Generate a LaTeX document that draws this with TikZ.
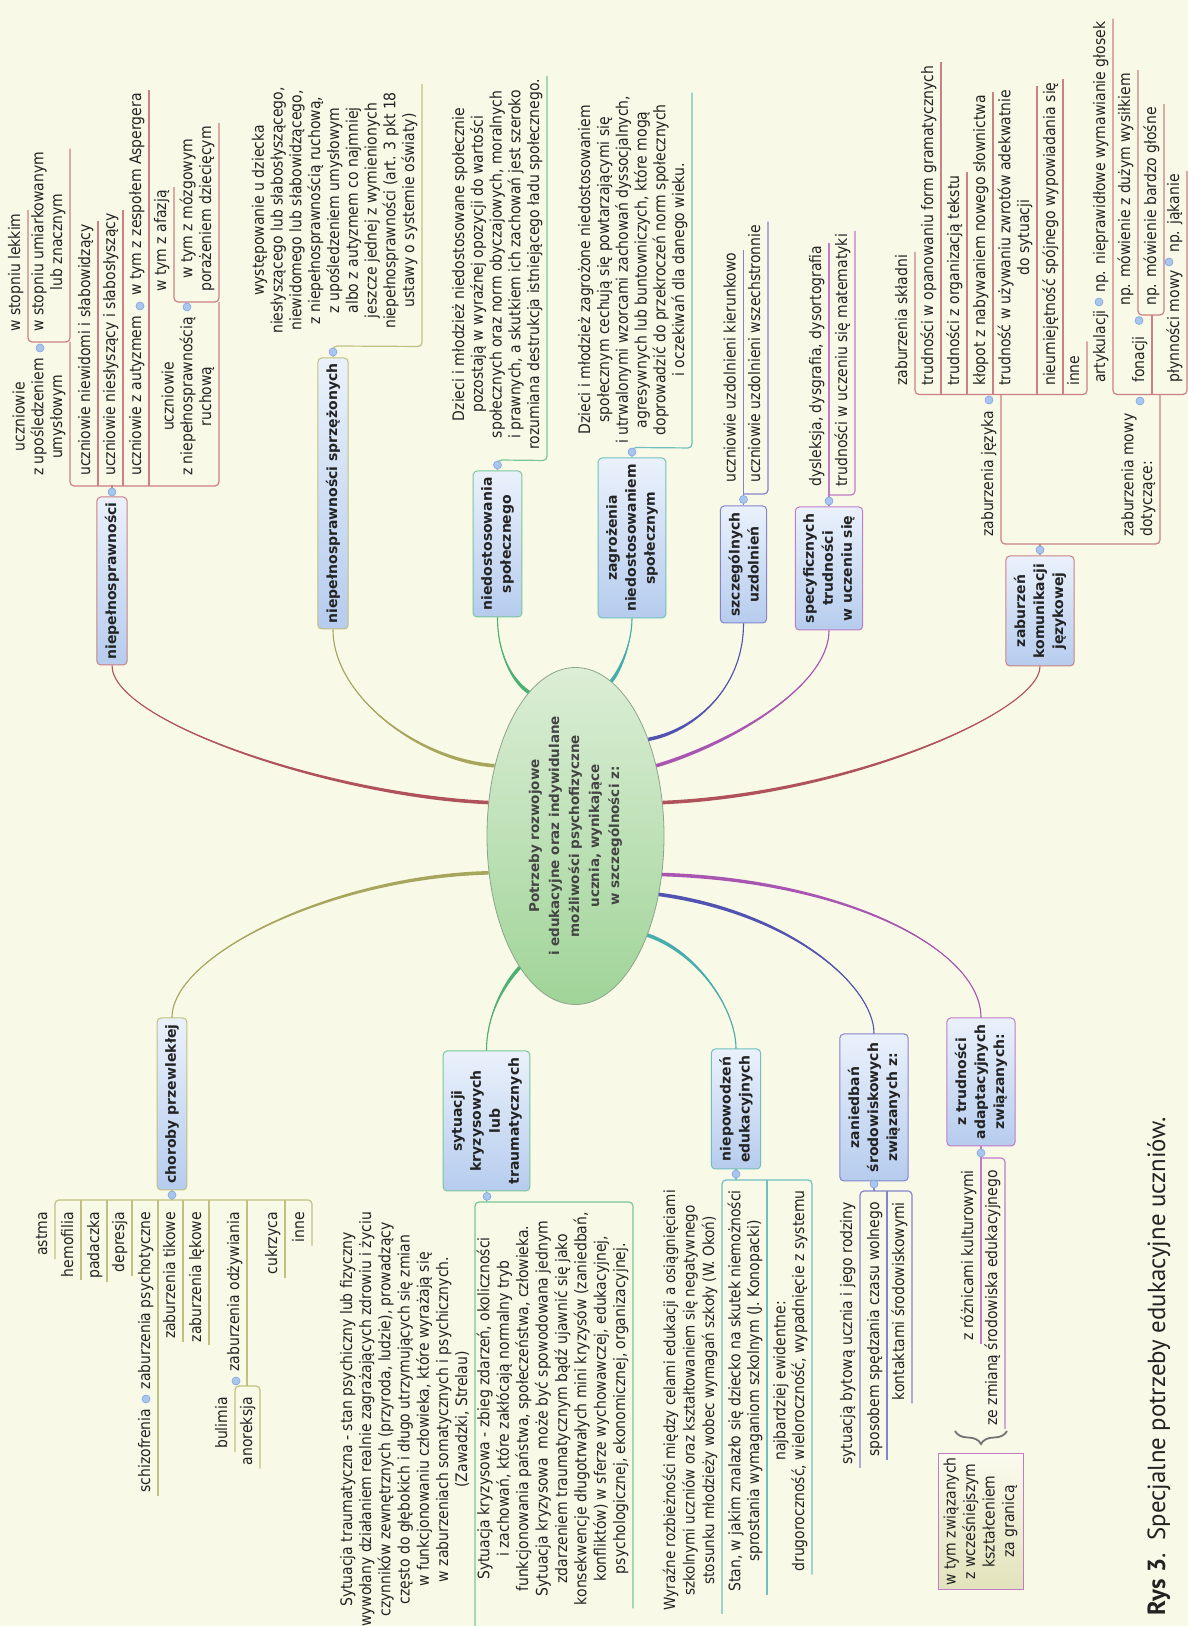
\documentclass[tikz,border=0pt]{standalone}
\usepackage{fontspec}
\setmainfont{DejaVu Sans}[FakeStretch=0.88]
\newfontfamily\boxfnt{DejaVu Sans}
\newfontfamily\capfnt{PT Sans}
\usetikzlibrary{calc,shapes.geometric,decorations.pathreplacing}

\definecolor{bgc}{RGB}{249,249,231}
\definecolor{txtc}{RGB}{35,35,35}
\definecolor{boxtop}{RGB}{234,241,251}
\definecolor{boxbot}{RGB}{182,204,238}
\definecolor{rootA}{RGB}{220,238,214}
\definecolor{rootB}{RGB}{160,212,152}
\definecolor{rootd}{RGB}{140,165,140}
\definecolor{dotc}{RGB}{168,198,240}
\definecolor{dotd}{RGB}{130,165,220}
\definecolor{notetop}{RGB}{251,251,238}
\definecolor{notebot}{RGB}{226,226,188}
\definecolor{brc}{RGB}{115,115,115}
% branch colours: c = curve, l = frame
\definecolor{redc}{RGB}{176,82,92}   \definecolor{redl}{RGB}{204,128,134}
\definecolor{olvc}{RGB}{166,166,92}  \definecolor{olvl}{RGB}{192,192,128}
\definecolor{grnc}{RGB}{76,176,112}  \definecolor{grnl}{RGB}{120,198,152}
\definecolor{tealc}{RGB}{70,172,172} \definecolor{teall}{RGB}{112,192,192}
\definecolor{indc}{RGB}{82,82,178}   \definecolor{indl}{RGB}{132,132,204}
\definecolor{magc}{RGB}{168,86,178}  \definecolor{magl}{RGB}{192,124,198}

\tikzset{
  topic/.style={rectangle, rounded corners=4pt, line width=1pt, top color=boxtop, bottom color=boxbot,
    font=\boxfnt\bfseries\fontsize{14}{19}\selectfont, text=txtc, align=center, inner xsep=5pt, inner ysep=8pt},
  sub/.style={font=\fontsize{15.9}{18.8}\selectfont, text=txtc, align=center, inner xsep=0pt, inner ysep=4pt, text depth=3.6pt},
  subR/.style={sub, anchor=south west},
  subL/.style={sub, anchor=south east},
  fr/.style={line width=1.2pt, rounded corners=4pt},
  dot/.style={circle, fill=dotc, draw=dotd, line width=0.6pt, minimum size=8pt, inner sep=0pt},
  note/.style={rectangle, draw=magl, line width=1pt, top color=notetop, bottom color=notebot,
    font=\fontsize{15.9}{19.5}\selectfont, text=txtc, align=center, minimum width=135pt, minimum height=85pt}
}

% tapered branch: colour, start, control at start, control at end, end, half width
\newcommand\branch[6]{%
  \fill[#1] ($(#2)+(#6)$) .. controls +#3 and +#4 .. (#5) .. controls +#4 and +#3 .. ($(#2)-(#6)$) -- cycle;
  \draw[#1, line width=1.1pt] (#2) .. controls +#3 and +#4 .. (#5);}

\begin{document}
\begin{tikzpicture}[x=1pt, y=1pt, rotate=90, transform shape]
\useasboundingbox (0,0) rectangle (1626,-1188);
\fill[bgc] (0,0) rectangle (1626,-1188);

% centre
\node (root) at (790,-575.5) [ellipse, draw=rootd, line width=0.8pt, top color=rootA, bottom color=rootB, minimum width=337pt, minimum height=177pt, inner sep=0pt] {};

% main topics
\node (nsp) at (1045,-112) [topic, draw=redl, minimum width=168pt] {niepełnosprawności};
\node (nsps) at (1132.5,-333) [topic, draw=olvl, minimum width=271pt] {niepełnosprawności sprzężonych};
\node (nds) at (1082,-497.5) [topic, draw=grnl, minimum width=146pt] {niedostosowania\\społecznego};
\node (zag) at (1088,-632) [topic, draw=teall, minimum width=160pt] {zagrożenia\\niedostosowaniem\\społecznym};
\node (szu) at (1061.5,-743.5) [topic, draw=indl, minimum width=117pt] {szczególnych\\uzdolnień};
\node (spt) at (1057.5,-829) [topic, draw=magl, minimum width=123pt] {specyficznych\\trudności\\w uczeniu się};
\node (zkj) at (1015,-1040) [topic, draw=redl, minimum width=110pt] {zaburzeń\\komunikacji\\językowej};
\node (chp) at (522,-172) [topic, draw=olvl, minimum width=172pt] {choroby przewlekłej};
\node (skt) at (505,-486.5) [topic, draw=grnl, minimum width=140pt] {sytuacji\\kryzysowych\\lub\\traumatycznych};
\node (npe) at (517,-736) [topic, draw=teall, minimum width=120pt] {niepowodzeń\\edukacyjnych};
\node (zsr) at (518.5,-874) [topic, draw=indl, minimum width=147pt] {zaniedbań\\środowiskowych\\związanych z:};
\node (ztr) at (544,-981) [topic, draw=magl, minimum width=128pt] {z trudności\\adaptacyjnych\\związanych:};

% niepelnosprawnosci
\node (a1) at (1150,-70) [subR] {uczniowie\\z upośledzeniem\\umysłowym};
\node (a2) at (1150,-98) [subR] {uczniowie niewidomi i słabowidzący};
\node (a3) at (1150,-123) [subR] {uczniowie niesłyszący i słabosłyszący};
\node (a4) at (1150,-149) [subR] {uczniowie z autyzmem};
\node (a5) at (1150,-219) [subR] {uczniowie\\z niepełnosprawnością\\ruchową};
\node (a11) at (1294,-28) [subR] {w stopniu lekkim};
\node (a12) at (1294,-70) [subR] {w stopniu umiarkowanym\\lub znacznym};
\node (a41) at (1330,-149) [subR] {w tym z zespołem Aspergera};
\node (a51) at (1334,-174) [subR] {w tym z afazją};
\node (a52) at (1334,-219) [subR] {w tym z mózgowym\\porażeniem dziecięcym};
\draw[fr, redl] (nsp.east) -- ($(nsp.east)+(11,0)$);
\draw[fr, redl] ($(a12.south west)+(-10,0)$) -- ($(a1.south west)+(-10,0)$) -- ($(a5.south west)+(-10,0)$) -- ($(a52.south west)+(-10,0)$);
\draw[fr, redl] ($(a11.south east)+(3,0)$) -- ($(a11.south west)+(-10,0)$) -- ($(a12.south west)+(-10,0)$) -- ($(a12.south east)+(3,0)$);
\draw[fr, redl] ($(a2.south west)+(-10,0)$) -- ($(a2.south east)+(3,0)$);
\draw[fr, redl] ($(a3.south west)+(-10,0)$) -- ($(a3.south east)+(3,0)$);
\draw[fr, redl] ($(a4.south west)+(-10,0)$) -- ($(a41.south east)+(3,0)$);
\draw[fr, redl] ($(a51.south east)+(3,0)$) -- ($(a51.south west)+(-10,0)$) -- ($(a52.south west)+(-10,0)$) -- ($(a52.south east)+(3,0)$);

% sprzezone
\node (b1) at (1292,-422) [subR] {występowanie u dziecka\\niesłyszącego lub słabosłyszącego,\\niewidomego lub słabowidzącego,\\z niepełnosprawnością ruchową,\\z upośledzeniem umysłowym\\albo z autyzmem co najmniej\\jeszcze jednej z wymienionych\\niepełnosprawności (art. 3 pkt 18\\ustawy o systemie oświaty)};
\draw[fr, olvl] (nsps.east) -- ($(nsps.east)+(11.5,0)$) -- ($(b1.south west)+(-12.5,0)$) -- ($(b1.south east)+(3,0)$);

% niedostosowanie
\node (c1) at (1176,-547) [subR] {Dzieci i młodzież niedostosowane społecznie\\pozostają w wyraźnej opozycji do wartości\\społecznych oraz norm obyczajowych, moralnych\\i prawnych, a skutkiem ich zachowań jest szeroko\\rozumiana destrukcja istniejącego ładu społecznego.};
\draw[fr, grnl] (nds.east) -- ($(nds.east)+(10.5,0)$) -- ($(c1.south west)+(-10.5,0)$) -- ($(c1.south east)+(3,0)$);

% zagrozenie
\node (d1) at (1182,-692) [subR] {Dzieci i młodzież zagrożone niedostosowaniem\\społecznym cechują się powtarzającymi się\\i utrwalonymi wzorcami zachowań dyssocjalnych,\\agresywnych lub buntowniczych, które mogą\\doprowadzić do przekroczeń norm społecznych\\i oczekiwań dla danego wieku.};
\draw[fr, teall] (zag.east) -- ($(zag.east)+(10,0)$) -- ($(d1.south west)+(-4,0)$) -- ($(d1.south east)+(3,0)$);

% uzdolnienia
\node (e1) at (1143,-743.5) [subR] {uczniowie uzdolnieni kierunkowo};
\node (e2) at (1143,-768) [subR] {uczniowie uzdolnieni wszechstronnie};
\draw[fr, indl] (szu.east) -- ($(e1.south east)+(3,0)$);
\draw[fr, indl] ($(e1.south west)+(-11,0)$) -- ($(e2.south west)+(-11,0)$) -- ($(e2.south east)+(3,0)$);

% specyficzne trudnosci
\node (f1) at (1139,-829) [subR] {dysleksja, dysgrafia, dysortografia};
\node (f2) at (1139,-855) [subR] {trudności w uczeniu się matematyki};
\draw[fr, magl] (spt.east) -- ($(f1.south east)+(3,0)$);
\draw[fr, magl] ($(f1.south west)+(-8,0)$) -- ($(f2.south west)+(-8,0)$) -- ($(f2.south east)+(3,0)$);

% komunikacja jezykowa
\node (g1) at (1089,-1001) [subR] {zaburzenia języka};
\node (g2) at (1089,-1160) [subR, align=left] {zaburzenia mowy\\dotyczące:};
\node (g11) at (1240,-915) [subR] {zaburzenia składni};
\node (g12) at (1240,-941) [subR] {trudności w opanowaniu form gramatycznych};
\node (g13) at (1240,-967) [subR] {trudności z organizacją tekstu};
\node (g14) at (1240,-993) [subR] {kłopot z nabywaniem nowego słownictwa};
\node (g15) at (1240,-1037) [subR] {trudność w używaniu zwrotów adekwatnie\\do sytuacji};
\node (g16) at (1240,-1063) [subR] {nieumiejętność spójnego wypowiadania się};
\node (g17) at (1240,-1087) [subR] {inne};
\node (g21) at (1243,-1113) [subR] {artykulacji};
\node (g211) at (1333,-1113) [subR] {np. nieprawidłowe wymawianie głosek};
\node (g22) at (1243,-1152) [subR] {fonacji};
\node (g221) at (1320,-1138) [subR] {np. mówienie z dużym wysiłkiem};
\node (g222) at (1320,-1164) [subR] {np. mówienie bardzo głośne};
\node (g23) at (1243,-1187) [subR] {płynności mowy};
\node (g231) at (1373,-1187) [subR] {np. jąkanie};
\draw[fr, redl] (zkj.east) -- ($(g1.south west)+(-7,-39)$);
\draw[fr, redl] ($(g1.south west)+(142.5,0)$) -- ($(g1.south west)+(-7,0)$) -- ($(g2.south west)+(-7,0)$) -- ($(g2.south west)+(142.5,0)$);
\draw[fr, redl] ($(g11.south east)+(3,0)$) -- ($(g11.south west)+(-8.5,0)$) -- ($(g17.south west)+(-8.5,0)$) -- ($(g17.south east)+(14,0)$);
\draw[fr, redl] ($(g12.south west)+(-8.5,0)$) -- ($(g12.south east)+(3,0)$);
\draw[fr, redl] ($(g13.south west)+(-8.5,0)$) -- ($(g13.south east)+(3,0)$);
\draw[fr, redl] ($(g14.south west)+(-8.5,0)$) -- ($(g14.south east)+(3,0)$);
\draw[fr, redl] ($(g15.south west)+(-8.5,0)$) -- ($(g15.south east)+(3,0)$);
\draw[fr, redl] ($(g16.south west)+(-8.5,0)$) -- ($(g16.south east)+(3,0)$);
\draw[fr, redl] ($(g211.south east)+(3,0)$) -- ($(g21.south west)+(-11.5,0)$) -- ($(g23.south west)+(-11.5,0)$) -- ($(g231.south east)+(3,0)$);
\draw[fr, redl] ($(g22.south west)+(-11.5,0)$) -- ($(g22.south west)+(68,0)$);
\draw[fr, redl] ($(g221.south east)+(3,0)$) -- ($(g221.south west)+(-9,0)$) -- ($(g222.south west)+(-9,0)$) -- ($(g222.south east)+(3,0)$);

% choroby przewlekle
\node (h1) at (414,-55) [subL] {astma};
\node (h2) at (414,-81) [subL] {hemofilia};
\node (h3) at (414,-107) [subL] {padaczka};
\node (h4) at (414,-132) [subL] {depresja};
\node (h5) at (414,-158) [subL] {zaburzenia psychotyczne};
\node (h51) at (217.5,-158) [subL] {schizofrenia};
\node (h6) at (414,-183) [subL] {zaburzenia tikowe};
\node (h7) at (414,-209) [subL] {zaburzenia lękowe};
\node (h8) at (414,-247) [subL] {zaburzenia odżywiania};
\node (h81) at (229,-235) [subL] {bulimia};
\node (h82) at (229,-260) [subL] {anoreksja};
\node (h9) at (414,-285) [subL] {cukrzyca};
\node (h10) at (414,-312) [subL] {inne};
\draw[fr, olvl] (chp.west) -- ($(chp.west)+(-10,0)$);
\draw[fr, olvl] ($(h1.south west)+(-3,0)$) -- ($(h1.south east)+(12,0)$) -- ($(h10.south east)+(12,0)$) -- ($(h10.south west)+(-3,0)$);
\draw[fr, olvl] ($(h2.south east)+(12,0)$) -- ($(h2.south west)+(-3,0)$);
\draw[fr, olvl] ($(h3.south east)+(12,0)$) -- ($(h3.south west)+(-3,0)$);
\draw[fr, olvl] ($(h4.south east)+(12,0)$) -- ($(h4.south west)+(-3,0)$);
\draw[fr, olvl] ($(h5.south east)+(12,0)$) -- ($(h51.south west)+(-3,0)$);
\draw[fr, olvl] ($(h6.south east)+(12,0)$) -- ($(h6.south west)+(-3,0)$);
\draw[fr, olvl] ($(h7.south east)+(12,0)$) -- ($(h7.south west)+(-3,0)$);
\draw[fr, olvl] ($(h8.south east)+(12,0)$) -- ($(h8.south east)+(-174,0)$);
\draw[fr, olvl] ($(h81.south west)+(-3,0)$) -- ($(h81.south east)+(11,0)$) -- ($(h82.south east)+(11,0)$) -- ($(h82.south west)+(-3,0)$);
\draw[fr, olvl] ($(h9.south east)+(12,0)$) -- ($(h9.south west)+(-3,0)$);

% sytuacje kryzysowe
\node (i1) at (414,-475) [subL, font=\fontsize{15.9}{19.2}\selectfont] {Sytuacja traumatyczna - stan psychiczny lub fizyczny\\wywołany działaniem realnie zagrażających zdrowiu i życiu\\czynników zewnętrznych (przyroda, ludzie), prowadzący\\często do głębokich i długo utrzymujących się zmian\\w funkcjonowaniu człowieka, które wyrażają się\\w zaburzeniach somatycznych i psychicznych.\\(Zawadzki, Strelau)};
\node (i2) at (414,-633) [subL, font=\fontsize{15.9}{19.4}\selectfont] {Sytuacja kryzysowa - zbieg zdarzeń, okoliczności\\i zachowań, które zakłócają normalny tryb\\funkcjonowania państwa, społeczeństwa, człowieka.\\Sytuacja kryzysowa \ może być spowodowana jednym\\zdarzeniem traumatycznym bądź ujawnić się jako\\konsekwencje długotrwałych mini kryzysów (zaniedbań,\\konfliktów) w sferze wychowawczej, edukacyjnej,\\psychologicznej, ekonomicznej, organizacyjnej.};
\draw[fr, grnl] (skt.west) -- ($(skt.west)+(-11,0)$);
\draw[fr, grnl] ($(i1.south west)+(-3,0)$) -- ($(i1.south east)+(10,0)$) -- ($(i2.south east)+(10,0)$) -- ($(i2.south west)+(-3,0)$);

% niepowodzenia
\node (j1) at (436,-722) [subL, font=\fontsize{15.4}{19.5}\selectfont] {Wyraźne rozbieżności między celami edukacji a osiągnięciami\\szkolnymi uczniów oraz kształtowaniem się negatywnego\\stosunku młodzieży wobec wymagań szkoły (W. Okoń)};
\node (j2) at (436,-767) [subL] {Stan, w jakim znalazło się dziecko na skutek niemożności\\sprostania wymaganiom szkolnym (J. Konopacki)};
\node (j3) at (436,-812) [subL] {najbardziej ewidentne:\\drugoroczność, wieloroczność, wypadnięcie z systemu};
\draw[fr, teall] (npe.west) -- ($(npe.west)+(-11,0)$);
\draw[fr, teall] ($(j1.south west)+(-3,0)$) -- ($(j1.south east)+(10,0)$) -- ($(j3.south east)+(10,0)$) -- ($(j3.south west)+(-3,0)$);
\draw[fr, teall] ($(j2.south east)+(10,0)$) -- ($(j2.south west)+(-3,0)$);

% zaniedbania
\node (k1) at (424,-860) [subL] {sytuacją bytową ucznia i jego rodziny};
\node (k2) at (424,-887) [subL] {sposobem spędzania czasu wolnego};
\node (k3) at (424,-912) [subL] {kontaktami środowiskowymi};
\draw[fr, indl] (zsr.west) -- ($(zsr.west)+(-10,0)$);
\draw[fr, indl] ($(k1.south west)+(-3,0)$) -- ($(k1.south east)+(11,0)$) -- ($(k3.south east)+(11,0)$) -- ($(k3.south west)+(-3,0)$);
\draw[fr, indl] ($(k2.south east)+(11,0)$) -- ($(k2.south west)+(-3,0)$);

% trudnosci adaptacyjne
\node (l1) at (456,-981) [subL] {z różnicami kulturowymi};
\node (l2) at (456,-1005) [subL] {ze zmianą środowiska edukacyjnego};
\node (wtz) at (104.5,-980.5) [note] {w tym związanych\\z wcześniejszym\\kształceniem\\za granicą};
\coordinate (brA) at (195,-1007);
\coordinate (brB) at (195,-955);
\draw[fr, magl] (ztr.west) -- ($(l1.south west)+(-3,0)$);
\draw[fr, magl] ($(l1.south east)+(12,0)$) -- ($(l2.south east)+(12,0)$) -- ($(l2.south west)+(-3,0)$);
\draw[brc, line width=1.8pt, decorate, decoration={brace, amplitude=13pt}] (brA) -- (brB);

% branches
\branch{redc}{root.69.5}{(7,157)}{(-56,0)}{nsp.west}{1.8,0}
\branch{olvc}{root.49}{(5,75)}{(-67,0)}{nsps.west}{1.8,0}
\branch{grnc}{root.18.4}{(12,18)}{(-34,0)}{nds.west}{1.5,-1}
\branch{tealc}{root.-13.4}{(12,-10)}{(-23,0)}{zag.west}{1.15,1.4}
\branch{indc}{root.-37}{(7,-42)}{(-68,0)}{szu.west}{1.8,0}
\branch{magc}{root.-49.8}{(22,-74)}{(-56,0)}{spt.west}{1.7,0.5}
\branch{redc}{root.-69}{(8,-186)}{(-45,0)}{zkj.west}{1.8,0}
\branch{olvc}{root.113.5}{(-4,158)}{(62,0)}{chp.east}{1.8,0}
\branch{grnc}{root.157.7}{(-17,16)}{(35,0)}{skt.east}{1.25,1.3}
\branch{tealc}{root.216.8}{(-18,-52)}{(38,0)}{npe.east}{1.7,-0.6}
\branch{indc}{root.235.7}{(-18,-131)}{(48,0)}{zsr.east}{1.8,-0.25}
\branch{magc}{root.246}{(-6,-187)}{(67,0)}{ztr.east}{1.8,0}

\node (roottxt) at (root.center) [font=\boxfnt\bfseries\fontsize{13.5}{20}\selectfont, text=txtc!85!white, align=center] {Potrzeby rozwojowe\\i edukacyjne oraz indywidulane\\możliwości psychofizyczne\\ucznia, wynikające\\w szczególności z:};

% collapse dots
\node (dA) at (1134,-112) [dot] {};
\node (dA1) at (1278,-40) [dot] {};
\node (dA4) at (1320,-140) [dot] {};
\node (dA5) at (1319,-187) [dot] {};
\node (dB) at (1274,-333) [dot] {};
\node (dC) at (1161,-497.5) [dot] {};
\node (dD) at (1174,-632) [dot] {};
\node (dE) at (1126.5,-743.5) [dot] {};
\node (dF) at (1125,-829) [dot] {};
\node (dG) at (1076,-1040) [dot] {};
\node (dG1) at (1226,-989) [dot] {};
\node (dG2) at (1225,-1140) [dot] {};
\node (dG21) at (1324,-1099) [dot] {};
\node (dG22) at (1305.5,-1139) [dot] {};
\node (dG23) at (1364,-1169) [dot] {};
\node (dH) at (431,-172) [dot] {};
\node (dH5) at (227,-146) [dot] {};
\node (dH8) at (245,-236) [dot] {};
\node (dI) at (429.6,-487) [dot] {};
\node (dJ) at (452,-736) [dot] {};
\node (dK) at (442,-874) [dot] {};
\node (dL) at (473,-981) [dot] {};

% caption
\node (cap) at (10,-1165) [anchor=base west, inner sep=0pt, font=\capfnt\fontsize{24.8}{29}\selectfont, text=txtc] {\textbf{Rys 3}.\ \ Specjalne potrzeby edukacyjne uczniów.};
\end{tikzpicture}
\end{document}
